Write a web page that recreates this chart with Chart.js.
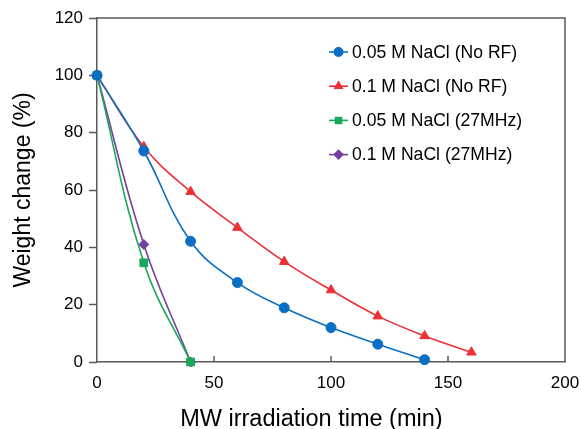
<!DOCTYPE html>
<html>
<head>
<meta charset="utf-8">
<script src="https://cdn.jsdelivr.net/npm/chart.js@4.4.1/dist/chart.umd.min.js"></script>
<style>
  html, body { margin: 0; padding: 0; background: #ffffff; }
  #wrap { width: 581px; height: 429px; position: relative; }
</style>
</head>
<body>
<div id="wrap"><canvas id="c" width="581" height="429"></canvas></div>
<script>
// ---- data ----
const seriesLabels = ['0.05 M NaCl (No RF)', '0.1 M NaCl (No RF)', '0.05 M NaCl (27MHz)', '0.1 M NaCl (27MHz)'];
const times05NoRF = [0, 20, 40, 60, 80, 100, 120, 140];
const weight05NoRF = [100, 73.6, 42.1, 27.7, 18.9, 12.0, 6.2, 0.8];
const times01NoRF = [0, 20, 40, 60, 80, 100, 120, 140, 160];
const weight01NoRF = [100, 75.1, 59.4, 46.9, 35.0, 25.1, 16.0, 9.1, 3.4];
const times27MHz = [0, 20, 40];
const weight05RF = [100, 34.6, 0];
const weight01RF = [100, 41.0, 0];
const xTicks = [0, 50, 100, 150, 200];
const yTicks = [0, 20, 40, 60, 80, 100, 120];

const BLUE = '#0A6FC2', RED = '#EC3036', GREEN = '#19A85A', PURPLE = '#7440A0';
const AXIS = '#595959';
const FONT = "'Liberation Sans', Arial, sans-serif";

function pts(xs, ys) { return xs.map((x, i) => ({ x: x, y: ys[i] })); }

function mk(label, xs, ys, color, style, radius) {
  return {
    label: label, data: pts(xs, ys),
    borderColor: color, backgroundColor: color,
    pointStyle: style, pointRadius: radius, pointHoverRadius: radius,
    pointBorderWidth: 1, borderWidth: 1.6, tension: 0.4, clip: false, fill: false
  };
}

const datasets = [
  mk(seriesLabels[0], times05NoRF, weight05NoRF, BLUE, 'circle', 5),
  mk(seriesLabels[1], times01NoRF, weight01NoRF, RED, 'triangle', 5.5),
  mk(seriesLabels[2], times27MHz, weight05RF, GREEN, 'rect', 5.5),
  mk(seriesLabels[3], times27MHz, weight01RF, PURPLE, 'rectRot', 5)
];

const frame = {
  id: 'frame',
  afterDraw(chart) {
    const ca = chart.chartArea, c = chart.ctx;
    c.save();
    c.strokeStyle = AXIS; c.lineWidth = 1.5;
    c.beginPath();
    c.moveTo(ca.left, ca.top); c.lineTo(ca.right, ca.top); c.lineTo(ca.right, ca.bottom);
    c.stroke();
    // inward x ticks
    const xs = chart.scales.x;
    c.beginPath();
    xTicks.forEach(v => {
      if (v === 0 || v === 200) return;
      const px = xs.getPixelForValue(v);
      c.moveTo(px, ca.bottom); c.lineTo(px, ca.bottom - 6);
    });
    c.stroke();
    c.restore();
  }
};

const legendBox = {
  id: 'legendBox',
  afterDatasetsDraw(chart) {
    const ca = chart.chartArea, c = chart.ctx;
    const x0 = ca.left + 232;
    let y = ca.top + 34;
    c.save();
    chart.data.datasets.forEach((ds, i) => {
      c.strokeStyle = ds.borderColor; c.fillStyle = ds.backgroundColor; c.lineWidth = 1.6;
      c.beginPath(); c.moveTo(x0, y); c.lineTo(x0 + 19, y); c.stroke();
      Chart.helpers.drawPoint(c, { pointStyle: ds.pointStyle, radius: 4.2, rotation: 0, borderWidth: 1 }, x0 + 9.5, y);
      c.fillStyle = '#000'; c.font = '17.6px ' + FONT; c.textBaseline = 'middle'; c.textAlign = 'left';
      c.fillText(ds.label, x0 + 23, y + 1);
      y += 34.2;
    });
    c.restore();
  }
};

new Chart(document.getElementById('c'), {
  type: 'line',
  data: { datasets: datasets },
  options: {
    responsive: false, animation: false, devicePixelRatio: 1,
    layout: { padding: { top: 18, right: 16, left: 0, bottom: 0 } },
    plugins: { legend: { display: false }, tooltip: { enabled: false } },
    scales: {
      x: {
        type: 'linear', min: 0, max: 200,
        afterBuildTicks(s) { s.ticks = xTicks.map(v => ({ value: v })); },
        afterFit(s) { s.height = 67; s.paddingLeft = 0; s.paddingRight = 0; },
        border: { color: AXIS, width: 1.5 },
        grid: { drawOnChartArea: false, drawTicks: false },
        ticks: { color: '#000', font: { size: 17, family: FONT }, padding: 11 },
        title: { display: true, text: 'MW irradiation time (min)      ', color: '#000', font: { size: 23.5, family: FONT }, padding: { top: 5, bottom: -5 } }
      },
      y: {
        type: 'linear', min: 0, max: 120,
        afterBuildTicks(s) { s.ticks = yTicks.map(v => ({ value: v })); },
        afterFit(s) { s.width = 97; },
        border: { color: AXIS, width: 1.5 },
        grid: { drawOnChartArea: false, drawTicks: true, tickLength: 8, tickColor: AXIS, tickWidth: 1.5 },
        ticks: { color: '#000', font: { size: 17, family: FONT }, padding: 6 },
        title: { display: true, text: 'Weight change (%)', color: '#000', font: { size: 23, family: FONT }, padding: { top: 10, bottom: 0 } }
      }
    }
  },
  plugins: [frame, legendBox]
});
</script>
</body>
</html>
